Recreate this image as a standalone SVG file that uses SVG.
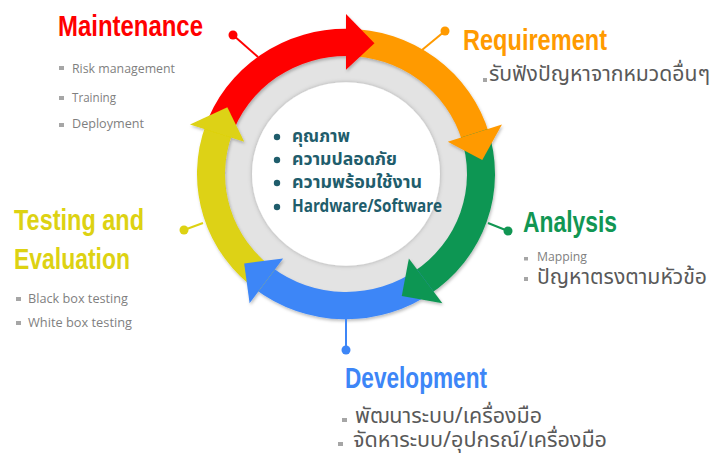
<svg xmlns="http://www.w3.org/2000/svg" width="717" height="454" viewBox="0 0 717 454">
<defs>
<style>
.h{font-family:"Liberation Sans","DejaVu Sans",sans-serif;font-weight:bold;font-size:30px}
.b{font-family:"Open Sans","Noto Sans","Liberation Sans",sans-serif;font-size:13px;fill:#7f7f7f}
.th{font-family:"Noto Sans Thai","Noto Sans","Liberation Sans",sans-serif;font-size:21px;fill:#595959}
.c{font-family:"Noto Sans Thai","Noto Sans","Liberation Sans",sans-serif;font-weight:bold;font-size:18px;fill:#1f5d6c}
.sq{fill:#a6a6a6}
.ln{stroke-width:2;fill:none}
</style>
<filter id="sh" x="-20%" y="-20%" width="140%" height="140%">
<feDropShadow dx="1" dy="2" stdDeviation="1.5" flood-color="#000" flood-opacity="0.25"/>
</filter>
<filter id="ws" x="-20%" y="-20%" width="140%" height="140%">
<feDropShadow dx="0" dy="0" stdDeviation="2" flood-color="#000" flood-opacity="0.25"/>
</filter>
</defs>
<rect width="717" height="454" fill="#fff"/>

<g id="cycle" transform="translate(346,174) scale(1,0.975)">
<circle r="135" fill="#e3e3e3"/>
<circle r="94" fill="#fff" filter="url(#ws)"/>
<g filter="url(#sh)">
<path fill="#ff0000" d="M -141.71 -46.04 A 149 149 0 0 1 5.20 -148.91 L 4.22 -120.93 A 121 121 0 0 0 -115.08 -37.39 Z"/>
<path fill="#ff9a00" d="M 0 -149 A 149 149 0 0 1 143.23 -41.07 L 116.31 -33.35 A 121 121 0 0 0 0 -121 Z"/>
<path fill="#119653" d="M 141.71 -46.04 A 149 149 0 0 1 83.32 123.53 L 67.66 100.31 A 121 121 0 0 0 115.08 -37.39 Z"/>
<path fill="#3d86f7" d="M 87.58 120.54 A 149 149 0 0 1 -91.73 117.41 L -74.49 95.35 A 121 121 0 0 0 71.12 97.89 Z"/>
<path fill="#ddd212" d="M -87.58 120.54 A 149 149 0 0 1 -140.01 -50.96 L -113.70 -41.38 A 121 121 0 0 0 -71.12 97.89 Z"/>
<polygon fill="#ff0000" points="0,-107 0,-164 28.48,-134.01"/>
<polygon fill="#ff9a00" points="101.76,-33.07 155.97,-50.68 136.25,-14.32"/>
<polygon fill="#119653" points="62.89,86.57 96.40,132.68 55.72,125.16"/>
<polygon fill="#3d86f7" points="-62.89,86.57 -96.40,132.68 -101.81,91.67"/>
<polygon fill="#ddd212" points="-101.76,-33.07 -155.97,-50.68 -118.65,-68.5"/>
</g>
</g>

<g id="center">
<circle cx="277" cy="137" r="3.2" fill="#1f5d6c"/>
<circle cx="277" cy="160" r="3.2" fill="#1f5d6c"/>
<circle cx="277" cy="183" r="3.2" fill="#1f5d6c"/>
<circle cx="277" cy="207" r="3.2" fill="#1f5d6c"/>
<text class="c" x="292" y="142" textLength="58" lengthAdjust="spacingAndGlyphs">คุณภาพ</text>
<text class="c" x="292" y="165" textLength="105" lengthAdjust="spacingAndGlyphs">ความปลอดภัย</text>
<text class="c" x="292" y="188" textLength="130" lengthAdjust="spacingAndGlyphs">ความพร้อมใช้งาน</text>
<text class="c" x="292" y="212" font-size="16" textLength="150" lengthAdjust="spacingAndGlyphs">Hardware/Software</text>
</g>

<g id="connectors">
<line class="ln" stroke="#ff0000" x1="258" y1="57" x2="233" y2="35"/>
<circle cx="233" cy="35" r="4.5" fill="#ff0000"/>
<line class="ln" stroke="#ff9a00" x1="422" y1="50" x2="445" y2="31"/>
<circle cx="445" cy="31" r="4.5" fill="#ff9a00"/>
<line class="ln" stroke="#119653" x1="488" y1="223" x2="508" y2="231"/>
<circle cx="508" cy="231" r="4.5" fill="#119653"/>
<line class="ln" stroke="#ddd212" x1="203" y1="223" x2="184" y2="230"/>
<circle cx="184" cy="230" r="4.5" fill="#ddd212"/>
<line class="ln" stroke="#3d86f7" x1="346" y1="318" x2="346" y2="350"/>
<circle cx="346" cy="350" r="4.5" fill="#3d86f7"/>
</g>

<g id="maintenance">
<text class="h" x="58" y="36" fill="#ff0000" textLength="145" lengthAdjust="spacingAndGlyphs">Maintenance</text>
<rect class="sq" x="59" y="66" width="5" height="4"/>
<text class="b" x="72" y="73" textLength="103" lengthAdjust="spacingAndGlyphs">Risk management</text>
<rect class="sq" x="59" y="96" width="5" height="4"/>
<text class="b" x="72" y="102" textLength="44" lengthAdjust="spacingAndGlyphs">Training</text>
<rect class="sq" x="59" y="123" width="5" height="4"/>
<text class="b" x="72" y="128" textLength="72" lengthAdjust="spacingAndGlyphs">Deployment</text>
</g>

<g id="requirement">
<text class="h" x="463" y="50" fill="#ff9a00" textLength="144" lengthAdjust="spacingAndGlyphs">Requirement</text>
<rect class="sq" x="483" y="78" width="4" height="4"/>
<text class="th" x="489" y="81" textLength="221" lengthAdjust="spacingAndGlyphs">รับฟังปัญหาจากหมวดอื่นๆ</text>
</g>

<g id="analysis">
<text class="h" x="523" y="232" fill="#119653" textLength="94" lengthAdjust="spacingAndGlyphs">Analysis</text>
<rect class="sq" x="524" y="257" width="4" height="3.5"/>
<text class="b" x="537" y="261" font-size="12" textLength="50" lengthAdjust="spacingAndGlyphs">Mapping</text>
<rect class="sq" x="524" y="277" width="4" height="4"/>
<text class="th" x="537" y="284" textLength="170" lengthAdjust="spacingAndGlyphs">ปัญหาตรงตามหัวข้อ</text>
</g>

<g id="testing">
<text class="h" x="14" y="230" fill="#ddd212" textLength="130" lengthAdjust="spacingAndGlyphs">Testing and</text>
<text class="h" x="14" y="269" fill="#ddd212" textLength="116" lengthAdjust="spacingAndGlyphs">Evaluation</text>
<rect class="sq" x="16" y="297" width="5" height="4"/>
<text class="b" x="28" y="303" textLength="100" lengthAdjust="spacingAndGlyphs">Black box testing</text>
<rect class="sq" x="16" y="321" width="5" height="4"/>
<text class="b" x="28" y="327" textLength="104" lengthAdjust="spacingAndGlyphs">White box testing</text>
</g>

<g id="development">
<text class="h" x="345" y="388" fill="#3d86f7" textLength="142" lengthAdjust="spacingAndGlyphs">Development</text>
<rect class="sq" x="342" y="418" width="5" height="4"/>
<text class="th" x="355" y="423" textLength="187" lengthAdjust="spacingAndGlyphs">พัฒนาระบบ/เครื่องมือ</text>
<rect class="sq" x="338" y="442" width="5" height="4"/>
<text class="th" x="353" y="447" textLength="254" lengthAdjust="spacingAndGlyphs">จัดหาระบบ/อุปกรณ์/เครื่องมือ</text>
</g>
</svg>
